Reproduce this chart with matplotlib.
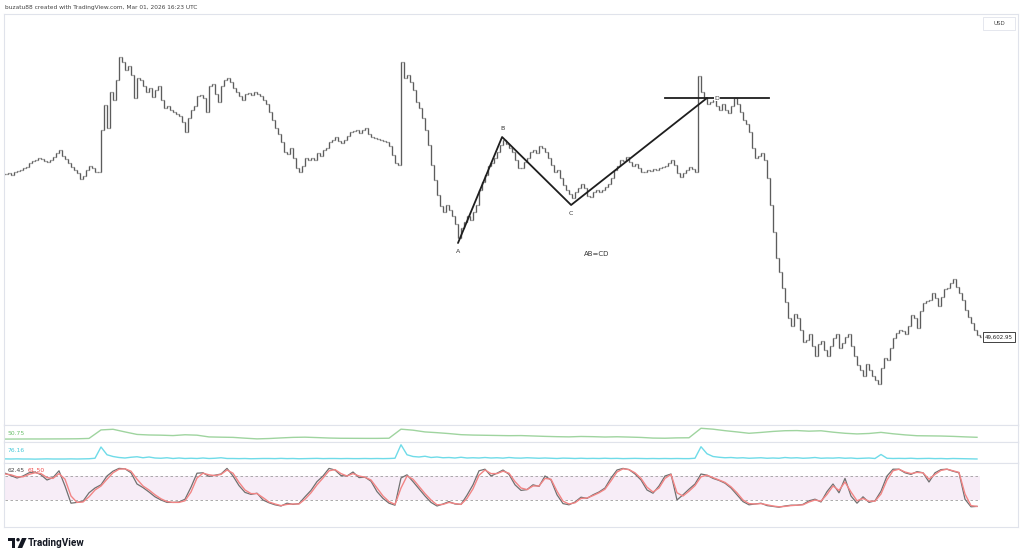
import numpy as np
import matplotlib.pyplot as plt
from matplotlib.patches import Polygon, Circle, Rectangle

# ---- price bars: closing price per bar, in thousands of USD ----
closes_k = [
    # before first gap
    65.9, 66.0, 65.8, 66.1, 66.2, 66.3, 66.5, 66.6, 67.0, 67.2,
    67.3, 67.5, 67.4, 67.2, 67.1, 67.3, 67.6, 68.0, 68.3, 67.7,
    67.4, 67.0, 66.6, 66.3, 66.0, 65.4, 65.7, 66.3, 66.7, 66.5,
    66.1, 66.1,
    # first gap up
    70.3, 72.8, 70.5, 74.1, 73.3, 75.3, 77.6, 77.1, 76.3, 76.7,
    75.8, 73.5, 75.5, 75.3, 74.7, 74.1, 74.5, 73.6, 74.3, 74.7,
    73.3, 72.5, 72.7, 72.3, 72.1, 71.9, 71.7, 71.1, 70.1, 71.5,
    72.3, 72.7, 73.7, 73.8, 73.5, 72.1, 74.7, 74.9, 73.9, 73.1,
    74.7, 75.3, 75.5, 75.1, 74.5, 74.1, 73.7, 73.3, 73.9, 74.0,
    73.8, 74.1, 73.9, 73.7, 73.3, 72.9, 72.1, 71.3, 70.5, 69.9,
    69.1, 68.1, 67.9, 68.5, 67.5, 66.5, 66.1, 66.7, 67.5, 67.3,
    67.5, 67.3, 68.0, 67.7, 68.3, 68.5, 69.1, 69.3, 69.6, 69.2,
    69.0, 69.3, 69.7, 70.1, 70.2, 70.3, 70.0, 70.3, 70.5, 69.9,
    69.6, 69.5, 69.4, 69.3, 69.2, 69.1, 68.7, 67.8, 67.0, 66.8,
    # second gap up, A-B-C leg
    77.1, 75.5, 75.8, 75.1, 74.3, 73.1, 72.5, 71.5, 70.3, 68.8,
    66.8, 65.3, 63.8, 62.7, 62.1, 62.8, 62.3, 61.7, 60.9, 59.5,
    60.5, 61.1, 61.7, 61.3, 62.1, 62.8, 64.3, 65.1, 65.8, 66.7,
    67.0, 67.5, 68.1, 68.8, 69.3, 68.9, 68.5, 68.1, 67.3, 66.5,
    66.5, 67.1, 67.5, 68.1, 68.3, 68.0, 68.7, 68.5, 68.1, 67.5,
    66.8, 66.1, 66.3, 65.5, 64.8, 64.3, 63.9, 63.5, 64.1, 64.5,
    64.9, 64.5, 63.7, 63.6, 64.1, 64.3, 64.1, 64.3, 64.6, 64.9,
    65.5, 66.3, 66.7, 67.3, 67.2, 67.6, 67.1, 66.7, 66.9, 66.5,
    66.1, 66.1, 66.3, 66.2, 66.4, 66.3, 66.5, 66.6, 66.7, 67.0,
    67.3, 66.8, 66.0, 65.6, 66.0, 66.3, 66.6, 66.4, 66.1,
    # third gap up, top at D and the slide
    75.7, 74.1, 73.5, 72.9, 73.1, 73.3, 72.7, 72.3, 72.9, 72.3,
    72.0, 72.7, 73.5, 72.9, 72.1, 71.3, 70.9, 70.1, 68.5, 67.5,
    67.7, 68.0, 67.3, 65.5, 62.8, 60.1, 57.5, 56.1, 54.5, 53.1,
    51.5, 50.7, 51.9, 51.5, 50.3, 49.1, 49.3, 49.9, 48.7, 47.7,
    48.9, 49.2, 48.3, 47.7, 48.7, 49.5, 49.9, 48.5, 49.0, 49.6,
    49.9, 48.7, 47.7, 46.8, 46.3, 45.7, 46.9, 46.3, 45.7, 45.3,
    44.9, 46.5, 47.5, 47.3, 48.5, 49.5, 50.0, 50.3, 50.2, 49.9,
    50.7, 51.8, 51.5, 50.5, 52.2, 53.0, 53.2, 53.3, 54.0, 53.5,
    52.7, 53.6, 54.4, 54.5, 55.0, 55.4, 54.6, 54.0, 53.3, 52.3,
    51.6, 51.0, 50.3, 49.8, 49.60295,
]

# AB=CD drawing (bar index, price in thousands)
pattern_bar = [151, 165.7, 188.7, 234]
pattern_price = [59.0, 69.6, 62.8, 73.5]
pattern_names = ['A', 'B', 'C', 'D']
level_bars = [220, 254.7]

# ---- indicators ----
# stochastic, one value every 2 bars
stoch_k = [
    87, 81, 75, 80, 88, 90, 83, 70, 76, 93,
    55, 12, 14, 17, 38, 50, 58, 80, 92, 99,
    98, 88, 60, 51, 40, 28, 20, 14, 14, 15,
    22, 52, 87, 88, 79, 82, 85, 99, 80, 56,
    39, 34, 37, 20, 13, 8, 5, 12, 9, 11,
    28, 44, 66, 80, 99, 95, 81, 80, 90, 76,
    77, 67, 41, 24, 12, 7, 75, 83, 66, 48,
    30, 14, 5, 10, 16, 10, 9, 32, 58, 93,
    97, 80, 87, 95, 84, 58, 44, 46, 58, 54,
    80, 70, 33, 11, 8, 15, 27, 24, 33, 40,
    50, 75, 95, 99, 96, 85, 70, 45, 37, 55,
    80, 85, 20, 33, 47, 60, 85, 82, 74, 69,
    62, 50, 33, 16, 8, 10, 12, 6, 4, 2,
    5, 7, 7, 9, 18, 22, 15, 41, 60, 38,
    74, 30, 12, 28, 14, 18, 42, 80, 97, 97,
    88, 84, 91, 88, 65, 88, 96, 97, 92, 88,
    22, 3, 4,
]
stoch_d = [
    85, 83, 78, 78, 84, 88, 86, 76, 74, 86,
    72, 30, 14, 15, 28, 45, 55, 72, 88, 97,
    98, 92, 72, 55, 45, 33, 23, 16, 14, 14,
    18, 40, 75, 87, 83, 81, 84, 95, 87, 64,
    45, 36, 36, 26, 15, 10, 6, 9, 10, 10,
    22, 38, 58, 75, 93, 96, 86, 80, 86, 80,
    77, 70, 50, 30, 16, 9, 50, 80, 72, 54,
    36, 20, 8, 9, 14, 11, 9, 24, 48, 82,
    95, 86, 86, 92, 87, 66, 50, 46, 55, 55,
    74, 72, 42, 17, 10, 13, 24, 25, 31, 38,
    47, 68, 90, 98, 96, 88, 74, 52, 40, 50,
    74, 84, 38, 30, 42, 56, 78, 82, 76, 70,
    64, 53, 38, 20, 11, 10, 11, 8, 5, 3,
    4, 6, 7, 8, 15, 20, 17, 34, 55, 44,
    65, 40, 18, 24, 17, 17, 35, 70, 93, 97,
    90, 86, 89, 88, 72, 84, 94, 97, 93, 89,
    35, 6, 4,
]
stoch_labels = ['62.45', '61.50']

# green line, one value every 4 bars
green_vals = [
    47.2, 47.3, 47.4, 47.4, 47.5, 47.6, 47.8, 48.5, 65.5, 66.8,
    61.5, 56.5, 55.4, 55.0, 54.2, 55.8, 55.0, 51.5, 51.0, 50.6,
    49.0, 47.6, 48.3, 49.5, 50.6, 51.0, 50.2, 49.3, 48.8, 48.7,
    48.6, 48.6, 48.9, 67.0, 65.0, 61.5, 60.0, 58.2, 56.0, 55.2,
    54.8, 54.4, 54.0, 54.2, 53.4, 52.6, 52.0, 51.6, 52.4, 52.0,
    51.3, 51.8, 51.2, 50.5, 49.2, 48.9, 49.6, 49.8, 68.8, 67.0,
    64.0, 61.5, 58.8, 60.5, 62.5, 63.9, 64.2, 63.0, 63.8, 61.0,
    58.8, 57.5, 58.4, 60.6, 57.8, 55.6, 53.9, 53.6, 53.3, 52.6,
    51.6, 50.75,
]

# cyan line, one value every 2 bars
cyan_vals = [
    77, 76, 77, 76, 76, 75, 76, 77, 76, 76,
    76, 77, 76, 77, 78, 82, 172, 110, 96, 88,
    84, 90, 94, 86, 92, 84, 82, 86, 80, 84,
    80, 82, 80, 84, 80, 82, 86, 80, 80, 79,
    80, 78, 79, 80, 80, 79, 81, 79, 80, 78,
    79, 80, 81, 79, 80, 80, 79, 80, 79, 79,
    80, 79, 80, 79, 80, 82, 190, 110, 96, 92,
    98, 88, 92, 86, 88, 84, 90, 84, 86, 84,
    88, 84, 86, 83, 88, 84, 83, 86, 84, 82,
    84, 82, 80, 83, 82, 80, 82, 80, 81, 80,
    82, 80, 81, 79, 80, 81, 80, 79, 80, 79,
    80, 79, 80, 79, 79, 82, 174, 118, 96, 90,
    86, 88, 84, 86, 82, 84, 86, 82, 84, 82,
    88, 84, 86, 82, 84, 88, 82, 84, 83, 86,
    82, 84, 80, 82, 84, 80, 112, 82, 80, 81,
    80, 82, 79, 80, 81, 79, 80, 78, 80, 79,
    78, 77, 76.16,
]

W, H = 1024, 559


def fy(y):
    # pixel row -> figure fraction
    return 1 - y / H


fig = plt.figure(figsize=(W / 100, H / 100), dpi=100)
fig.patch.set_facecolor('white')


def pane(top, bottom):
    return fig.add_axes([4 / W, fy(bottom), 1014 / W, (bottom - top) / H])


ax = pane(14, 425)
ax_g = pane(425, 442)
ax_c = pane(442, 463)
ax_s = pane(463, 527)

for a in (ax, ax_g, ax_c, ax_s):
    a.set_xlim(-1 / 3, 1013 / 3)
    a.set_xticks([])
    a.set_yticks([])
    for s in a.spines.values():
        s.set_color('#e0e3eb')
        s.set_linewidth(0.8)

# ---- OHLC bars ----
closes = np.array(closes_k) * 1000
bars = np.arange(len(closes))
opens = np.r_[closes[0], closes[:-1]]
highs = np.maximum(opens, closes)
lows = np.minimum(opens, closes)
bar_col = '#5c5c5c'
ax.vlines(bars, lows, highs, color=bar_col, lw=0.95)
ax.hlines(opens, bars - 0.45, bars, color=bar_col, lw=0.9)
ax.hlines(closes, bars, bars + 0.45, color=bar_col, lw=0.9)
ax.set_ylim(40800, 81900)

# AB=CD drawing
px = np.array(pattern_price) * 1000
ax.plot(pattern_bar, px, color='#1e1e1e', lw=1.3, solid_capstyle='round', zorder=5)
ax.plot(level_bars, [px[-1], px[-1]], color='#1e1e1e', lw=1.3, zorder=5)
offsets = [(0, -6), (0, 6), (0, -6), (7, 0)]
for name, b, p, off in zip(pattern_names, pattern_bar, px, offsets):
    box = dict(boxstyle='square,pad=0.1', fc='white', ec='none') if name == 'D' else None
    ax.annotate(name, (b, p), xytext=off, textcoords='offset points', zorder=7,
                ha='center', va='center', fontsize=4.5, color='#333333', bbox=box)
ax.text(197.3, 57900, 'AB=CD', ha='center', va='center', fontsize=5, color='#333333')

# last price label
ax.text(0.9813, closes[-1], f"{closes[-1]:,.2f}", transform=ax.get_yaxis_transform(),
        ha='center', va='center', fontsize=4, color='#222222', zorder=6,
        bbox=dict(boxstyle='square,pad=0.4', fc='white', ec='#222222', lw=0.6))

# ---- green pane ----
g_bars = np.arange(len(green_vals)) * 4
ax_g.plot(g_bars, green_vals, color='#9fd49f', lw=1.0)
ax_g.set_ylim(41.35, 75.35)

# ---- cyan pane ----
c_bars = np.arange(len(cyan_vals)) * 2
ax_c.plot(c_bars, cyan_vals, color='#6fdbe8', lw=1.0)
ax_c.set_ylim(44, 212)

# ---- stochastic pane ----
s_bars = np.arange(len(stoch_k)) * 2
last_bar = len(closes) - 1
ax_s.fill_between([0, last_bar], 20, 80, color='#f7edf7', lw=0)
ax_s.hlines([20, 80], 0, last_bar, colors='#9e9e9e', lw=0.6, linestyles=(0, (3, 3)))
ax_s.plot(s_bars, stoch_k, color='#707070', lw=0.9)
ax_s.plot(s_bars, stoch_d, color='#f28585', lw=1.0)
ax_s.set_ylim(-47.5, 112.5)

# pane value labels
fig.text(8 / W, fy(433.5), f"{green_vals[-1]:.2f}", fontsize=4.3, color='#6abf6a', va='center')
fig.text(8 / W, fy(450.5), f"{cyan_vals[-1]:.2f}", fontsize=4.3, color='#45c8d8', va='center')
fig.text(8 / W, fy(470.5), stoch_labels[0], fontsize=4.3, color='#444444', va='center')
fig.text(28 / W, fy(470.5), stoch_labels[1], fontsize=4.3, color='#f04848', va='center')

# header
fig.text(5 / W, fy(7), 'buzatu88 created with TradingView.com, Mar 01, 2026 16:23 UTC',
         fontsize=4.2, color='#444444', va='center')

# USD box
fig.add_artist(Rectangle((983 / W, fy(30)), 32 / W, 13 / H, transform=fig.transFigure,
                         fc='white', ec='#e0e3eb', lw=0.6))
fig.text(999 / W, fy(23.5), 'USD', fontsize=4, color='#444444', ha='center', va='center')

# TradingView logo
lg = fig.add_axes([8 / W, fy(549), 19 / W, 12 / H])
lg.set_xlim(0, 19)
lg.set_ylim(12, 0)
lg.axis('off')
lg.add_patch(Polygon([(0, 1), (7, 1), (7, 11), (3.8, 11), (3.8, 4.3), (0, 4.3)], closed=True,
                     fc='#131722', ec='none'))
lg.add_patch(Circle((10, 2.7), 1.75, fc='#131722', ec='none'))
lg.add_patch(Polygon([(14, 1), (18.6, 1), (14.2, 11), (9.6, 11)], closed=True,
                     fc='#131722', ec='none'))
fig.text(28 / W, fy(543.5), 'TradingView', fontsize=7.2, fontweight='bold',
         family=['Roboto', 'DejaVu Sans'], color='#131722', va='center')

fig.savefig('out.png', dpi=100, facecolor='white')
